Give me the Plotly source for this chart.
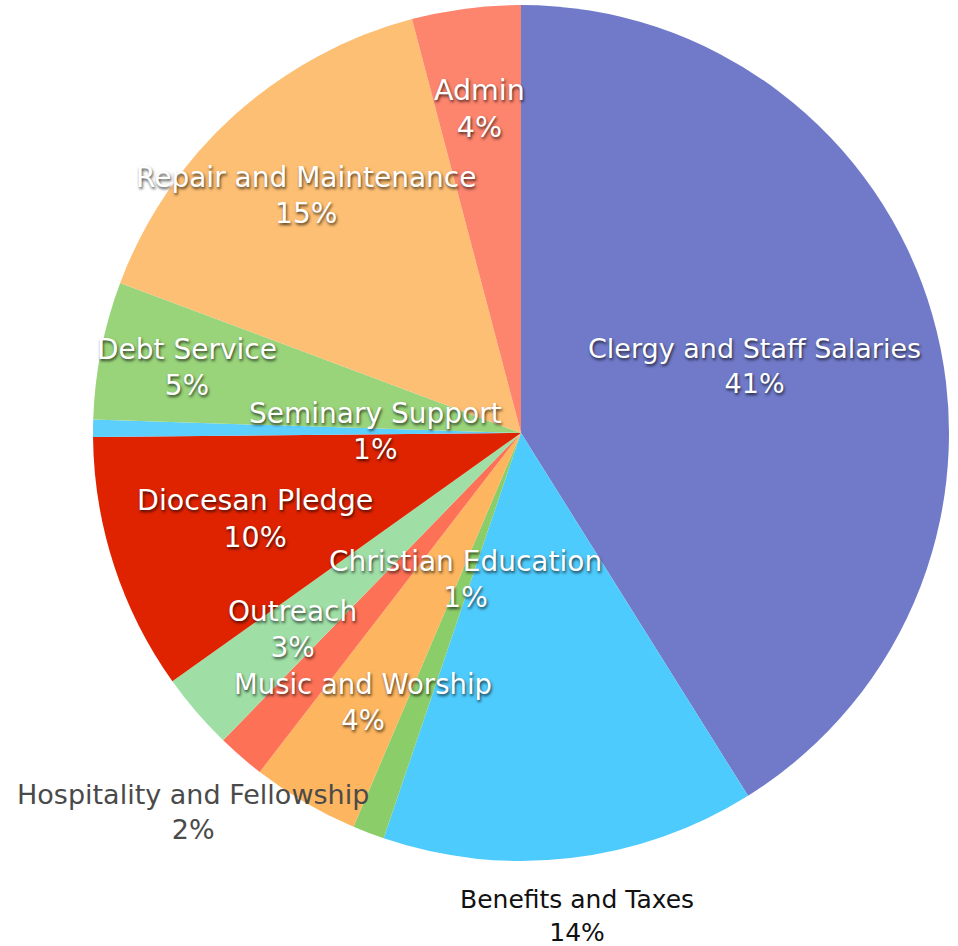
import math
import plotly.graph_objects as go

# ---- data ----
categories = [
    "Clergy and Staff Salaries", "Benefits and Taxes", "Christian Education",
    "Music and Worship", "Hospitality and Fellowship", "Outreach",
    "Diocesan Pledge", "Seminary Support", "Debt Service",
    "Repair and Maintenance", "Admin",
]
values = [41.1, 14.1, 1.2, 4.05, 1.8, 2.9, 9.7, 0.65, 5.2, 15.2, 4.1]

# ---- style ----
colors = ["#707ac9", "#4ecbfd", "#8bce69", "#fdb55f", "#fd7157", "#9fdfa6",
          "#df2300", "#5ccffd", "#99d47a", "#fdbf73", "#fd846d"]
label_radius = [0.567, 1.135, 0.367, 0.729, 1.17, 0.703, 0.654, 0.341, 0.796, 0.748, 0.763]
label_inside = [True, False, True, True, False, True, True, True, True, True, True]
label_size = [27, 25, 28, 27.5, 27, 28, 28.5, 28, 28, 28, 28.5]
outside_colors = {1: "#111111", 4: "#4a4a4a"}
FONT = "DejaVu Sans, Liberation Sans, Arial, sans-serif"

W, H = 958, 946
CX, CY, R = 521, 433, 428

fig = go.Figure(go.Pie(
    labels=categories, values=values, sort=False, direction="clockwise",
    rotation=0, marker=dict(colors=colors, line=dict(width=0)),
    textinfo="none", hoverinfo="none", showlegend=False,
    domain=dict(x=[(CX - R) / W, (CX + R) / W], y=[1 - (CY + R) / H, 1 - (CY - R) / H]),
))

total = sum(values)
cum = 0.0
annotations = []
for i, (cat, v) in enumerate(zip(categories, values)):
    mid = (cum + v / 2) / total * 2 * math.pi
    cum += v
    f = label_radius[i]
    px = CX + f * R * math.sin(mid)
    py = CY - f * R * math.cos(mid)
    pct = round(v / total * 100)
    if label_inside[i]:
        font = dict(family=FONT, size=label_size[i], color="white",
                    shadow="1px 2px 3px rgba(0,0,0,0.7)")
    else:
        font = dict(family=FONT, size=label_size[i], color=outside_colors.get(i, "#333333"))
    annotations.append(dict(
        x=px / W, y=1 - py / H, xref="paper", yref="paper",
        text=f"{cat}<br>{pct}%", showarrow=False, font=font,
        xanchor="center", yanchor="middle", align="center",
    ))

fig.update_layout(
    width=W, height=H, margin=dict(l=0, r=0, t=0, b=0),
    paper_bgcolor="white", plot_bgcolor="white", annotations=annotations,
)
fig.write_html("out.html", config={"displayModeBar": False},
               post_script="document.body.style.margin='0';")
